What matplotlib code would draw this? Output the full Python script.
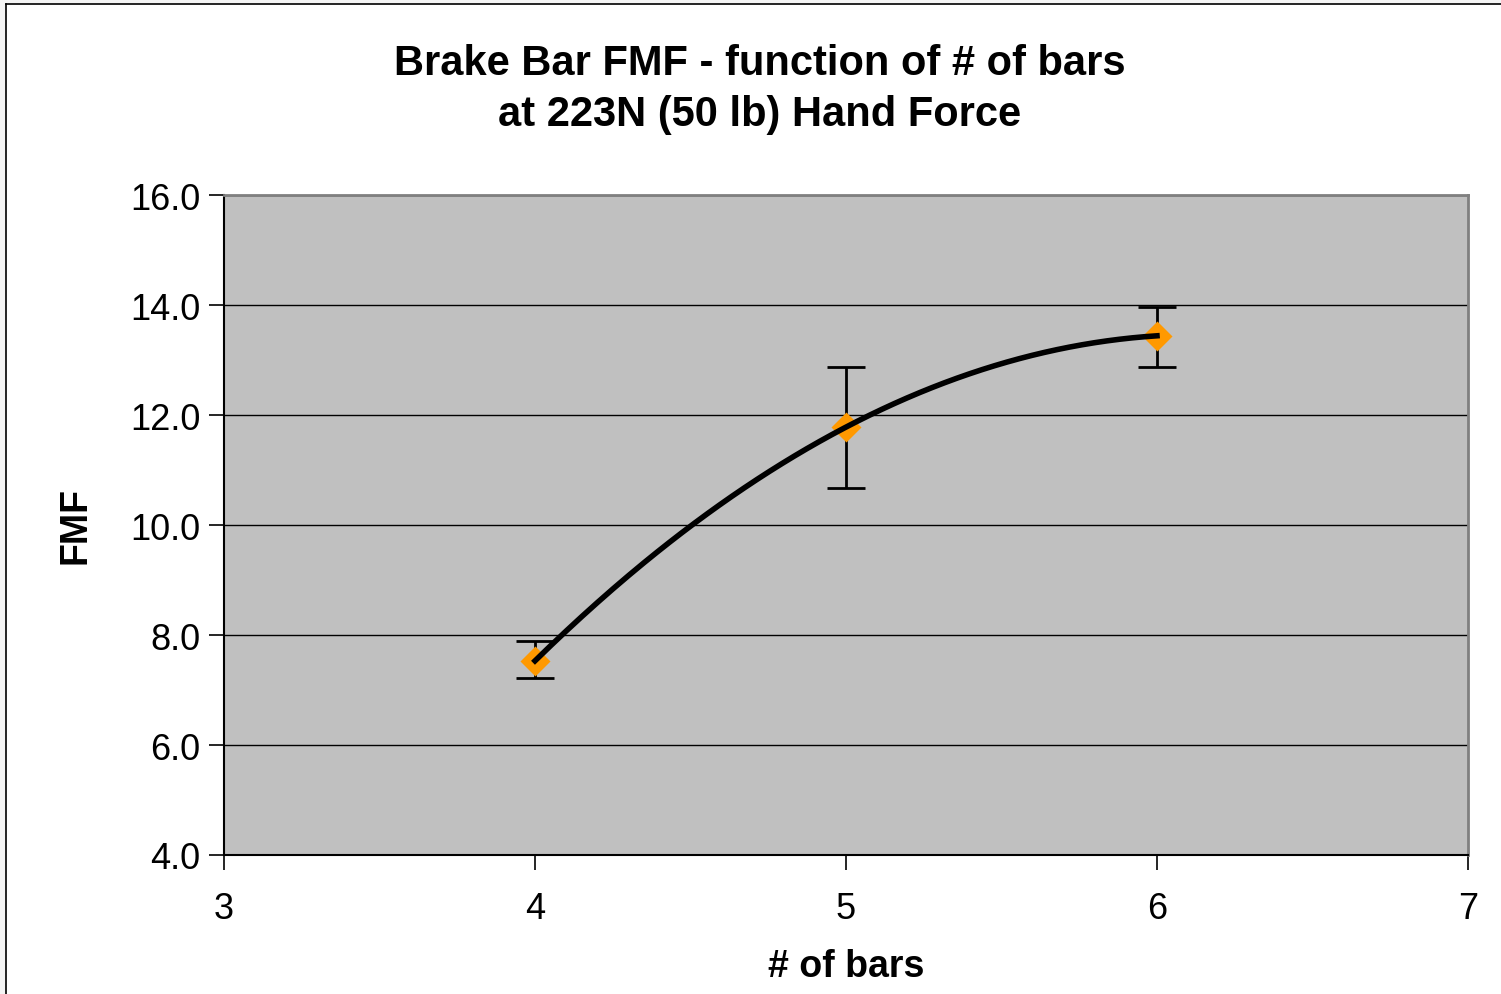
import numpy as np
import matplotlib.pyplot as plt
from matplotlib.lines import Line2D
from matplotlib.patches import Rectangle

# data
bars = [4, 5, 6]
fmf = [7.53, 11.78, 13.44]
err_low = [7.22, 10.67, 12.88]
err_high = [7.90, 12.88, 13.97]

x_ticks = [3, 4, 5, 6, 7]
y_ticks = [4.0, 6.0, 8.0, 10.0, 12.0, 14.0, 16.0]

plt.rcParams['font.family'] = ['Liberation Sans', 'DejaVu Sans']

fig = plt.figure(figsize=(15.01, 9.95), dpi=100)
fig.patch.set_facecolor('#f4f4f4')
# white chart area with a border on the left and top
fig.patches.append(Rectangle((6 / 1501, 0), 1, 1 - 5 / 995, transform=fig.transFigure,
                             facecolor='white', edgecolor='none', zorder=-5))
fig.lines.append(Line2D([6 / 1501, 6 / 1501], [0, 1 - 5 / 995], transform=fig.transFigure,
                        color='black', lw=1.2, zorder=-4))
fig.lines.append(Line2D([6 / 1501, 1], [1 - 5 / 995, 1 - 5 / 995], transform=fig.transFigure,
                        color='black', lw=1.2, zorder=-4))

ax = fig.add_axes([224 / 1501, 1 - 856 / 995, (1468 - 224) / 1501, (856 - 196) / 995])
ax.set_facecolor('#c0c0c0')
ax.set_xlim(3, 7)
ax.set_ylim(4, 16)
ax.set_xticks(x_ticks)
ax.set_xticklabels([str(v) for v in x_ticks])
ax.set_yticks(y_ticks)
ax.set_yticklabels([f'{v:.1f}' for v in y_ticks])
ax.grid(axis='y', color='black', lw=1)
ax.set_axisbelow(True)
for s in ['top', 'right']:
    ax.spines[s].set_color('#808080')
    ax.spines[s].set_linewidth(2)
for s in ['left', 'bottom']:
    ax.spines[s].set_color('black')
    ax.spines[s].set_linewidth(1.5)
ax.tick_params(axis='both', direction='out', length=11, width=1.2, labelsize=26)
ax.tick_params(axis='x', pad=15)
ax.tick_params(axis='y', pad=6)

# smoothed line through the points
coef = np.polyfit(bars, fmf, 2)
xs = np.linspace(bars[0], bars[-1], 200)
ax.plot(xs, np.polyval(coef, xs), color='black', lw=4, zorder=3)

yerr = [np.array(fmf) - np.array(err_low), np.array(err_high) - np.array(fmf)]
ax.errorbar(bars, fmf, yerr=yerr, fmt='none', ecolor='black', elinewidth=2,
            capsize=14, capthick=2, zorder=2)
ax.plot(bars, fmf, 'D', color='#ff9900', markersize=15, markeredgecolor='none', zorder=2.5)

ax.set_xlabel('# of bars', fontsize=27, fontweight='bold', labelpad=16)
ax.set_ylabel('FMF', fontsize=27, fontweight='bold', labelpad=26)

fig.text(760 / 1501, 1 - 89.5 / 995, 'Brake Bar FMF - function of # of bars\nat 223N (50 lb) Hand Force',
         ha='center', va='center', fontsize=30, fontweight='bold', linespacing=1.38)

fig.savefig('out.png', dpi=100, facecolor=fig.get_facecolor())
